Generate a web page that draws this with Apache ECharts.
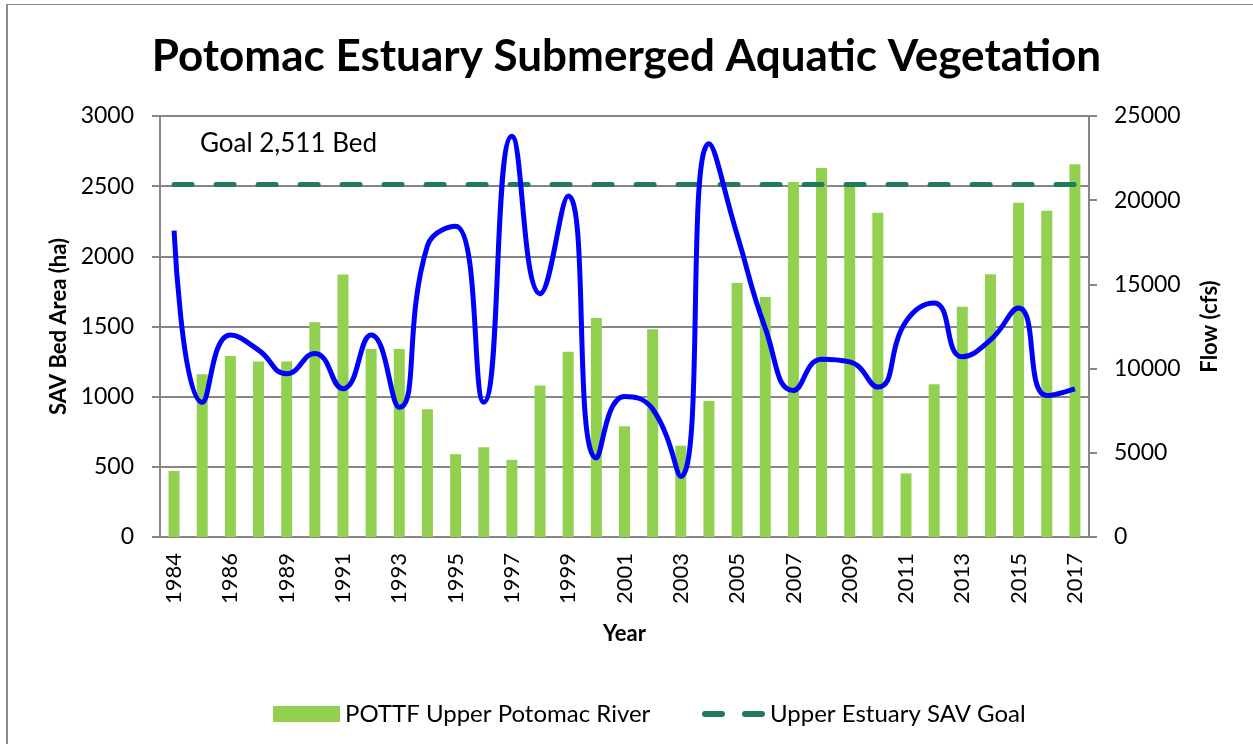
<!DOCTYPE html>
<html>
<head>
<meta charset="utf-8">
<script src="https://cdn.jsdelivr.net/npm/echarts@6/dist/echarts.min.js"></script>
<style>
  html, body { margin: 0; padding: 0; background: #fff; }
  #chart { width: 1253px; height: 744px; }
  #frame { position: absolute; left: 6px; top: 4px; right: 0; bottom: 0; border-left: 2px solid #8a8a8a; border-top: 1px solid #8a8a8a; pointer-events: none; }
</style>
</head>
<body>
<div id="chart"></div>
<div id="frame"></div>
<script>
  // 年份 (1988 没有数据)
  const years = ['1984', '1985', '1986', '1987', '1989', '1990', '1991', '1992', '1993', '1994',
    '1995', '1996', '1997', '1998', '1999', '2000', '2001', '2002', '2003', '2004',
    '2005', '2006', '2007', '2008', '2009', '2010', '2011', '2012', '2013', '2014',
    '2015', '2016', '2017']
  // SAV 面积 (ha)
  const savArea = [470, 1160, 1290, 1250, 1250, 1530, 1870, 1340, 1340, 910,
    590, 640, 550, 1080, 1320, 1560, 790, 1480, 650, 970,
    1810, 1710, 2530, 2630, 2510, 2310, 453, 1088, 1640, 1872,
    2381, 2325, 2657]
  // 流量 (cfs)
  const flow = [18200, 8000, 12000, 11100, 9700, 10900, 8800, 12000, 7700, 17300,
    18450, 8000, 23800, 14450, 20250, 4700, 8350, 7600, 3600, 23350,
    17950, 12400, 8700, 10550, 10400, 8900, 12800, 13900, 10700, 11700,
    13600, 8400, 8800]
  const goal = 2511
  const goalLine = years.map(() => goal)

  const font = 'Lato, "Open Sans", sans-serif'
  const gray = '#868686'
  const goalColor = '#217a5c'

  const chart = echarts.init(document.getElementById('chart'))
  chart.setOption({
    animation: false,
    backgroundColor: '#fff',
    textStyle: { fontFamily: font, color: '#000' },
    title: {
      text: 'Potomac Estuary Submerged Aquatic Vegetation',
      left: 'center',
      top: 30,
      textStyle: { fontSize: 44, fontWeight: 'bold', color: '#000', fontFamily: font }
    },
    graphic: [{
      type: 'text',
      left: 200,
      top: 131,
      style: { text: 'Goal 2,511 Bed', fontSize: 26, fill: '#000', fontFamily: font }
    }],
    legend: [{
      left: 268,
      top: 697,
      itemWidth: 67,
      itemHeight: 16,
      icon: 'rect',
      textStyle: { fontSize: 24, color: '#000', fontFamily: font },
      data: ['POTTF Upper Potomac River']
    }, {
      left: 697,
      top: 697,
      itemWidth: 63,
      itemHeight: 6,
      textStyle: { fontSize: 24, color: '#000', fontFamily: font },
      data: [{
        name: 'Upper Estuary SAV Goal',
        icon: 'path://M3,0h17a3,3,0,0,1,0,6h-17a3,3,0,0,1,0,-6z M43,0h17a3,3,0,0,1,0,6h-17a3,3,0,0,1,0,-6z'
      }]
    }],
    grid: {
      left: 160,
      right: 164,
      top: 116,
      bottom: 207,
      show: true,
      borderColor: '#4f81bd',
      borderWidth: 1
    },
    xAxis: [{
      type: 'category',
      data: years,
      name: 'Year',
      nameLocation: 'middle',
      nameGap: 86,
      nameTextStyle: { fontSize: 22, fontWeight: 'bold', fontFamily: font },
      axisLine: { lineStyle: { color: gray, width: 2 } },
      axisTick: { show: false },
      axisLabel: { interval: 1, rotate: 90, fontSize: 22, color: '#000', margin: 16 }
    }],
    yAxis: [{
      type: 'value',
      min: 0,
      max: 3000,
      interval: 500,
      name: 'SAV Bed Area (ha)',
      nameLocation: 'middle',
      nameGap: 90,
      nameTextStyle: { fontSize: 22, fontWeight: 'bold', fontFamily: font },
      axisLine: { show: true, lineStyle: { color: gray, width: 2 } },
      axisTick: { show: true, length: 8, lineStyle: { color: gray, width: 2 } },
      axisLabel: { fontSize: 23, color: '#000', margin: 26, formatter: v => String(v) },
      splitLine: { lineStyle: { color: gray, width: 2 } }
    }, {
      type: 'value',
      min: 0,
      max: 25000,
      interval: 5000,
      name: 'Flow (cfs)',
      nameLocation: 'middle',
      nameGap: 110,
      nameRotate: 90,
      nameTextStyle: { fontSize: 22, fontWeight: 'bold', fontFamily: font },
      axisLine: { show: true, lineStyle: { color: gray, width: 2 } },
      axisTick: { show: true, length: 8, lineStyle: { color: gray, width: 2 } },
      axisLabel: { fontSize: 23, color: '#000', margin: 25, formatter: v => String(v) },
      splitLine: { show: false }
    }],
    series: [{
      name: 'POTTF Upper Potomac River',
      type: 'bar',
      barWidth: 11,
      itemStyle: { color: '#92d050' },
      data: savArea,
      yAxisIndex: 0
    }, {
      name: 'Upper Estuary SAV Goal',
      type: 'line',
      symbol: 'none',
      itemStyle: { color: goalColor },
      lineStyle: { color: goalColor, width: 5, type: [18, 24], cap: 'round' },
      data: goalLine,
      yAxisIndex: 0,
      z: 3
    }, {
      name: 'Flow',
      type: 'line',
      smooth: 0.5,
      symbol: 'none',
      lineStyle: { color: '#0000ff', width: 5 },
      data: flow,
      yAxisIndex: 1,
      z: 4
    }]
  })
</script>
</body>
</html>
